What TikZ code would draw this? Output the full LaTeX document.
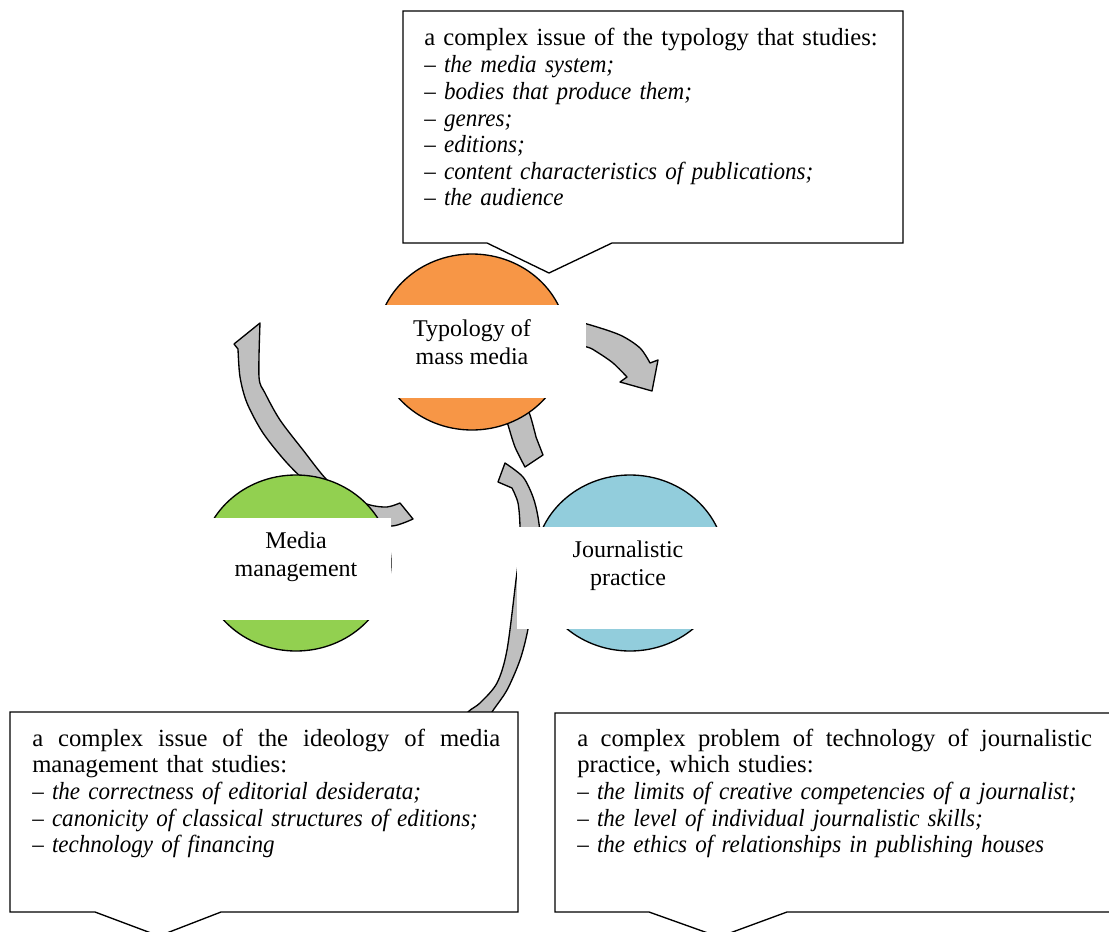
\documentclass[tikz,border=0pt]{standalone}
\usepackage{fontspec}
\setmainfont{Liberation Serif}[ItalicFeatures={FakeStretch=0.935}]
\usepackage{xcolor}
\usepackage{tikz}
\usetikzlibrary{shapes.geometric}

\definecolor{typorange}{HTML}{F79646}
\definecolor{mgmtgreen}{HTML}{92D050}
\definecolor{practblue}{HTML}{92CDDC}
\definecolor{arrowgray}{HTML}{BFBFBF}

\tikzset{
  topic/.style={shape=ellipse, draw=black, line width=1pt, minimum width=142.5pt, minimum height=132pt, inner sep=0pt},
  band/.style={fill=white},
  topictext/.style={align=center, inner sep=0pt, font=\fontsize{18}{21}\selectfont},
  arrowbody/.style={draw=black, fill=arrowgray, line width=1pt, line join=round},
  calloutbox/.style={draw=black, fill=white, line width=1pt},
  calltext/.style={anchor=base west, inner sep=0pt, align=left, font=\fontsize{18.5}{20}\selectfont}
}

%% first line of a note, spread over the whole width
\newcommand{\spreadline}[1]{\makebox[\hsize][s]{\spaceskip=0pt #1}}

\begin{document}
\begin{tikzpicture}[x=0.75pt,y=-0.75pt]

\useasboundingbox (0,0) rectangle (1109,931);

%% arrows

\draw[arrowbody] plot[smooth] coordinates {(560,318) (587,324) (620,335) (640,348) (650,363)} -- (658,360) -- (652,391) -- (620,382) -- plot[smooth] coordinates {(627,377) (613,363) (597,352) (587,347) (560,342)} -- cycle;
\draw[arrowbody] plot[smooth] coordinates {(500,400) (508,425) (515,447) (525,467)} -- (543,455) -- plot[smooth] coordinates {(536,437) (530,415) (522,398)} -- cycle;
\draw[arrowbody] (505,463) -- (498,482) -- plot[smooth] coordinates {(512,488) (518,503) (520,527) (519,555) (516,580) (507,650) (497,683) (480,703) (468,712) (455,730)} -- plot[smooth] coordinates {(482,730) (492,712) (507,690) (520,660) (528,629) (536,580) (540,540) (538,517) (533,497) (523,477) (505,463)} -- cycle;
\draw[arrowbody] (260,323) -- (234,344) -- plot[smooth] coordinates {(238,349) (240,377) (247,403) (263,433) (287,463) (312,487) (340,507) (365,521) (392,526) (413,519)} -- plot[smooth] coordinates {(400,503) (387,507) (370,505) (350,497) (327,480) (303,450) (280,420) (265,393) (259,377) (260,323)} -- cycle;

%% circles

\node[topic, fill=typorange] (typ) at (472,342) {};
\node[topic, fill=mgmtgreen] (mgmt) at (296,563) {};
\node[topic, fill=practblue] (pract) at (630,563) {};

%% white bands
\fill[band] (358,305) rectangle (586,398);
\fill[band] (195,518) rectangle (391,620);
\fill[band] (517,527) rectangle (743,629);

%% labels
\node[topictext] (typlabel) at (472,342) {Typology of\\mass media};
\node[topictext] (mgmtlabel) at (296,557) {Media\\management};
\node[topictext] (practlabel) at (628,566) {Journalistic\\practice};

%% callouts
\draw[calloutbox] (403,11) -- (903,11) -- (903,243) -- (612,243) -- (549,273) -- (487,243) -- (403,243) -- cycle;
\draw[calloutbox] (10,712) -- (518,712) -- (518,912) -- (221,912) -- (159,936) -- (95,912) -- (10,912) -- cycle;
\draw[calloutbox] (555,713) -- (1115,713) -- (1115,912) -- (787,912) -- (719,937) -- (649,912) -- (555,912) -- cycle;

\node[calltext, text width=360pt] (typnote) at (424,46) {a complex issue of the typology that studies:\\
\textit{– the media system;}\\
\textit{– bodies that produce them;}\\
\textit{– genres;}\\
\textit{– editions;}\\
\textit{– content characteristics of publications;}\\
\textit{– the audience}};

\node[calltext, text width=351pt] (mgmtnote) at (32,746) {\spreadline{a complex issue of the ideology of media}\\
management that studies:\\
\textit{– the correctness of editorial desiderata;}\\
\textit{– canonicity of classical structures of editions;}\\
\textit{– technology of financing}};

\node[calltext, text width=386pt] (practnote) at (577,746) {\spreadline{a complex problem of technology of journalistic}\\
practice, which studies:\\
\textit{– the limits of creative competencies of a journalist;}\\
\textit{– the level of individual journalistic skills;}\\
\textit{– the ethics of relationships in publishing houses}};

\end{tikzpicture}
\end{document}
